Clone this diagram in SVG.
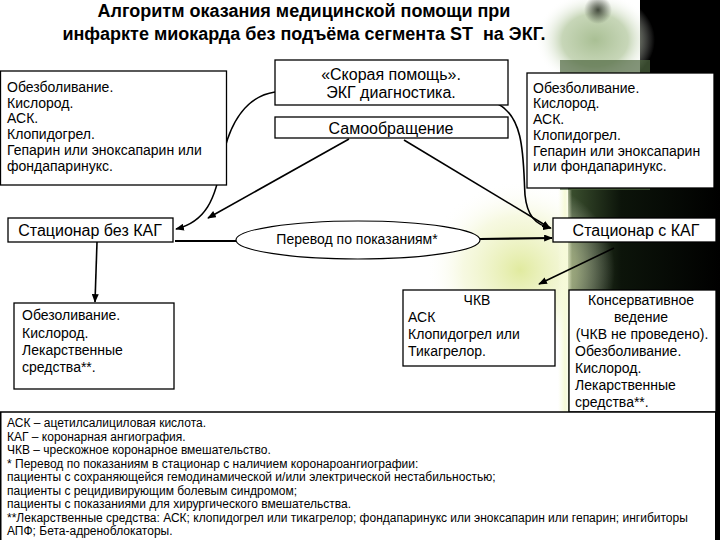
<svg xmlns="http://www.w3.org/2000/svg" width="720" height="540" viewBox="0 0 720 540">
<defs>
<style>
text{font-family:"Liberation Sans",Arial,sans-serif;fill:#000}
.title{font-size:18px;font-weight:bold;text-anchor:middle}
.t14{font-size:14px}
.t16{font-size:16px}
.mid{text-anchor:middle}
.leg{font-size:12px}
.box{fill:#fff;stroke:#000;stroke-width:1.3}
.ell{fill:#fff;stroke:#000;stroke-width:1.2}
.con{fill:none;stroke:#000;stroke-width:1.6}
.thick{fill:none;stroke:#000;stroke-width:2.2}
</style>
<marker id="arr" viewBox="0 0 10 8" refX="9" refY="4" markerWidth="9" markerHeight="7" markerUnits="userSpaceOnUse" orient="auto">
<path d="M0,0 L10,4 L0,8 z" fill="#000"/>
</marker>
<linearGradient id="dark" x1="0" y1="0" x2="1" y2="0">
<stop offset="0" stop-color="#3d5230"/>
<stop offset="0.35" stop-color="#0c140a"/>
<stop offset="1" stop-color="#000"/>
</linearGradient>
<radialGradient id="glow" cx="0.5" cy="0.5" r="0.5">
<stop offset="0" stop-color="#dfe99a" stop-opacity="0.95"/>
<stop offset="0.6" stop-color="#eef3c4" stop-opacity="0.5"/>
<stop offset="1" stop-color="#ffffff" stop-opacity="0"/>
</radialGradient>
<radialGradient id="blob" cx="0.5" cy="0.5" r="0.5">
<stop offset="0" stop-color="#a9bf94"/>
<stop offset="0.55" stop-color="#b9cca6" stop-opacity="0.8"/>
<stop offset="1" stop-color="#ffffff" stop-opacity="0"/>
</radialGradient>
<radialGradient id="spot" cx="0.5" cy="0.5" r="0.5">
<stop offset="0" stop-color="#2a3024" stop-opacity="0.85"/>
<stop offset="1" stop-color="#2a3024" stop-opacity="0"/>
</radialGradient>
<linearGradient id="stripe" x1="0" y1="0" x2="1" y2="0">
<stop offset="0" stop-color="#f8fbe0" stop-opacity="0"/>
<stop offset="0.5" stop-color="#f6fad8"/>
<stop offset="1" stop-color="#f8fbe0" stop-opacity="0"/>
</linearGradient>
</defs>
<rect x="0" y="0" width="720" height="540" fill="#fff"/>
<g id="background">
<rect x="640" y="0" width="80" height="190" fill="#000"/>
<rect x="568" y="180" width="152" height="360" fill="url(#dark)"/>
<ellipse cx="595" cy="40" rx="60" ry="48" fill="url(#blob)"/>
<ellipse cx="598" cy="10" rx="14" ry="14" fill="url(#spot)"/>
<rect x="560" y="60" width="90" height="130" fill="#4e6640" opacity="0.7"/>
<ellipse cx="520" cy="270" rx="95" ry="90" fill="url(#glow)"/>
<rect x="558" y="190" width="14" height="222" fill="url(#stripe)"/>
<rect x="716" y="412" width="4" height="128" fill="#000"/>
</g>
<g id="title">
<text class="title" x="304" y="17">Алгоритм оказания медицинской помощи при</text>
<text class="title" x="304" y="40" xml:space="preserve">инфаркте миокарда без подъёма сегмента ST  на ЭКГ.</text>
</g>
<g id="connectors">
<path class="con" d="M275,92 C248,96 230,120 222,160 C216,200 205,222 176,229" marker-end="url(#arr)"/>
<path class="con" d="M349,139 L208,218" marker-end="url(#arr)"/>
<path class="con" d="M404,140 L550,228" marker-end="url(#arr)"/>
<path class="con" d="M498,104 C525,118 523,160 525,195 C527,215 535,225 551,228" marker-end="url(#arr)"/>
<path class="thick" d="M175,241 L236,241"/>
<path class="thick" d="M480,239 L552,238" marker-end="url(#arr)"/>
<path class="con" d="M97,242 L95,302" marker-end="url(#arr)"/>
<path class="con" d="M614,248 L539,284" marker-end="url(#arr)"/>
</g>
<g id="n-left-top">
<rect class="box" x="0.5" y="71" width="226" height="114"/>
<text class="t14" x="7" y="92">Обезболивание.</text>
<text class="t14" x="7" y="108">Кислород.</text>
<text class="t14" x="7" y="123">АСК.</text>
<text class="t14" x="7" y="139">Клопидогрел.</text>
<text class="t14" x="7" y="155">Гепарин или эноксапарин или</text>
<text class="t14" x="7" y="171">фондапаринукс.</text>
</g>
<g id="n-ambulance">
<rect class="box" x="275" y="60" width="233" height="45"/>
<text class="t16 mid" x="391" y="80">«Скорая помощь».</text>
<text class="t16 mid" x="391" y="98">ЭКГ диагностика.</text>
</g>
<g id="n-self">
<rect class="box" x="275" y="117" width="233" height="21"/>
<text class="t16 mid" x="391" y="134">Самообращение</text>
</g>
<g id="n-right-top">
<rect class="box" x="527" y="73" width="187" height="115"/>
<text class="t14" x="533" y="93">Обезболивание.</text>
<text class="t14" x="533" y="108">Кислород.</text>
<text class="t14" x="533" y="124">АСК.</text>
<text class="t14" x="533" y="140">Клопидогрел.</text>
<text class="t14" x="533" y="156">Гепарин или эноксапарин</text>
<text class="t14" x="533" y="171">или фондапаринукс.</text>
</g>
<g id="n-hosp-no-kag">
<rect class="box" x="8" y="218" width="165" height="24"/>
<text class="t16 mid" x="90" y="236">Стационар без КАГ</text>
</g>
<g id="n-transfer">
<ellipse class="ell" cx="358" cy="240" rx="122" ry="19"/>
<text class="t14 mid" x="357" y="244">Перевод по показаниям*</text>
</g>
<g id="n-hosp-kag">
<rect class="box" x="553" y="218" width="163" height="24"/>
<text class="t16 mid" x="636" y="236">Стационар с КАГ</text>
</g>
<g id="n-left-bottom">
<rect class="box" x="14" y="303" width="160" height="86"/>
<text class="t14" x="22" y="320">Обезоливание.</text>
<text class="t14" x="22" y="338">Кислород.</text>
<text class="t14" x="22" y="355">Лекарственные</text>
<text class="t14" x="22" y="372">средства**.</text>
</g>
<g id="n-pci">
<rect class="box" x="403" y="290" width="152" height="76"/>
<text class="t14 mid" x="477" y="305">ЧКВ</text>
<text class="t14" x="408" y="322">АСК</text>
<text class="t14" x="408" y="339">Клопидогрел или</text>
<text class="t14" x="408" y="356">Тикагрелор.</text>
</g>
<g id="n-conservative">
<rect class="box" x="569" y="290" width="147" height="122"/>
<text class="t14 mid" x="641" y="305">Консервативное</text>
<text class="t14 mid" x="641" y="322">ведение</text>
<text class="t14 mid" x="642" y="339">(ЧКВ не проведено).</text>
<text class="t14" x="575" y="356">Обезболивание.</text>
<text class="t14" x="575" y="373">Кислород.</text>
<text class="t14" x="575" y="390">Лекарственные</text>
<text class="t14" x="575" y="407">средства**.</text>
</g>
<g id="legend">
<rect x="0.75" y="412" width="715" height="140" fill="#fff" stroke="#000" stroke-width="1.5"/>
<text class="leg" x="7" y="427">АСК – ацетилсалициловая кислота.</text>
<text class="leg" x="7" y="440.5">КАГ – коронарная ангиография.</text>
<text class="leg" x="7" y="454">ЧКВ – чрескожное коронарное вмешательство.</text>
<text class="leg" x="7" y="467.5">* Перевод по показаниям в стационар с наличием коронароангиографии:</text>
<text class="leg" x="7" y="481">пациенты с сохраняющейся гемодинамической и/или электрической нестабильностью;</text>
<text class="leg" x="7" y="494.5">пациенты с рецидивирующим болевым синдромом;</text>
<text class="leg" x="7" y="508">пациенты с показаниями для хирургического вмешательства.</text>
<text class="leg" x="7" y="521.5">**Лекарственные средства: АСК; клопидогрел или тикагрелор; фондапаринукс или эноксапарин или гепарин; ингибиторы</text>
<text class="leg" x="7" y="535">АПФ; Бета-адреноблокаторы.</text>
</g>
</svg>
